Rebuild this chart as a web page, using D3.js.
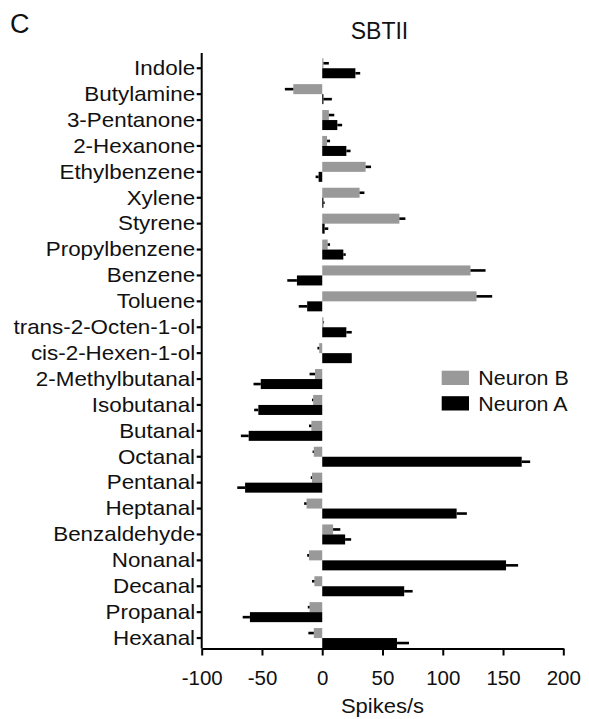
<!DOCTYPE html>
<html>
<head>
<meta charset="utf-8">
<script src="https://cdn.jsdelivr.net/npm/d3@7"></script>
<style>
  html, body { margin: 0; padding: 0; background: #fff; }
  svg { display: block; font-family: "Liberation Sans", Arial, Helvetica, sans-serif; }
</style>
</head>
<body>
<svg id="chart" width="589" height="719"></svg>
<script>
const categories = ["Indole","Butylamine","3-Pentanone","2-Hexanone","Ethylbenzene","Xylene","Styrene","Propylbenzene","Benzene","Toluene","trans-2-Octen-1-ol","cis-2-Hexen-1-ol","2-Methylbutanal","Isobutanal","Butanal","Octanal","Pentanal","Heptanal","Benzaldehyde","Nonanal","Decanal","Propanal","Hexanal"];
const neuronB = [1, -24, 5.5, 4, 36, 31, 64, 4.5, 123, 128, 1, -2.5, -6, -7.5, -9, -7, -8.5, -13, 9, -11, -6.5, -10.5, -7];
const errB    = [4.5, 7, 4.5, 2.5, 4.5, 4, 5, 2, 12.5, 13, 0.5, 1.5, 4.5, 1, 2, 1, 1, 2, 6, 1.5, 2, 1.5, 4.5];
const neuronA = [27.5, 1, 12.5, 20, -3, 1, 2, 17.5, -21, -12.5, 20, 24.5, -51, -53, -61, 165.5, -64, 111.5, 19, 152.5, 68, -60, 62];
const errA    = [4, 7, 4, 3.5, 2.5, 1, 3, 2, 8, 7, 4.5, 0, 6, 3.5, 6.5, 7, 6.5, 8.5, 5, 10, 7, 6, 10];
const xTicks = [-100, -50, 0, 50, 100, 150, 200];
const seriesNames = ["Neuron B", "Neuron A"];
const seriesColors = ["#999999", "#000000"];

const svg = d3.select("#chart");
const axisY = 648.5;
const x = d3.scaleLinear().domain([-100, 200]).range([201.7, 563.3]);
const y = d3.scaleBand().domain(categories).range([55.3, 651]).padding(0);
const barH = 10;

// bars
const series = [
  {vals: neuronB, errs: errB, color: seriesColors[0], off: -barH},
  {vals: neuronA, errs: errA, color: seriesColors[1], off: 0}
];
series.forEach(s => {
  const g = svg.append("g");
  categories.forEach((c, i) => {
    const v = s.vals[i];
    const cy = y(c) + y.bandwidth() / 2;
    g.append("rect")
      .attr("x", Math.min(x(0), x(v)))
      .attr("y", cy + s.off)
      .attr("width", Math.abs(x(v) - x(0)))
      .attr("height", barH)
      .attr("fill", s.color);
    const dir = v >= 0 ? 1 : -1;
    const e = s.errs[i];
    if (e > 0) {
      const ey = cy + s.off + barH / 2;
      g.append("line")
        .attr("x1", x(v)).attr("x2", x(v + dir * e))
        .attr("y1", ey).attr("y2", ey)
        .attr("stroke", "#000").attr("stroke-width", 2.6);
    }
  });
});

// x axis
const xAxis = svg.append("g")
  .attr("transform", `translate(0,${axisY})`)
  .call(d3.axisBottom(x).tickValues(xTicks).tickFormat(d => String(d))
    .tickSize(7).tickSizeOuter(0).tickPadding(15));
xAxis.select(".domain").attr("stroke", "#000").attr("stroke-width", 2);
xAxis.selectAll(".tick line").attr("stroke", "#000").attr("stroke-width", 2);
xAxis.selectAll(".tick text")
  .attr("font-size", 20.5).attr("fill", "#111")
  .attr("font-family", "Liberation Sans, Arial, sans-serif");

// y axis
const yAxis = svg.append("g")
  .attr("transform", `translate(${x(-100)},0)`)
  .call(d3.axisLeft(y).tickSize(5).tickSizeOuter(0).tickPadding(0));
yAxis.select(".domain").remove();
yAxis.append("line")
  .attr("x1", 0).attr("x2", 0).attr("y1", 53).attr("y2", axisY)
  .attr("stroke", "#000").attr("stroke-width", 2);
yAxis.selectAll(".tick line").attr("stroke", "#000").attr("stroke-width", 2.2);
yAxis.selectAll(".tick text")
  .attr("font-size", 20).attr("fill", "#111")
  .attr("font-family", "Liberation Sans, Arial, sans-serif")
  .attr("x", -5.9).attr("dy", "0.34em")
  .attr("transform", "scale(1.12,1)");

// axis title
svg.append("text")
  .attr("transform", `translate(${x(50)},713) scale(1.1,1)`)
  .attr("text-anchor", "middle").attr("font-size", 20).attr("fill", "#111")
  .text("Spikes/s");

// chart title
svg.append("text")
  .attr("x", 379.5).attr("y", 38.5)
  .attr("text-anchor", "middle").attr("font-size", 23).attr("fill", "#111")
  .text("SBTII");

// panel letter
svg.append("text")
  .attr("x", 10).attr("y", 33)
  .attr("font-size", 27).attr("fill", "#111")
  .text("C");

// legend
const legend = svg.append("g").attr("transform", "translate(441.7,370.7)");
seriesNames.forEach((n, i) => {
  const lg = legend.append("g").attr("transform", `translate(0,${i * 25.5})`);
  lg.append("rect").attr("width", 27.3).attr("height", 14.3).attr("fill", seriesColors[i]);
  lg.append("text")
    .attr("transform", "translate(36.6,14.3) scale(1.07,1)")
    .attr("font-size", 20).attr("fill", "#111")
    .text(n);
});
</script>
</body>
</html>
